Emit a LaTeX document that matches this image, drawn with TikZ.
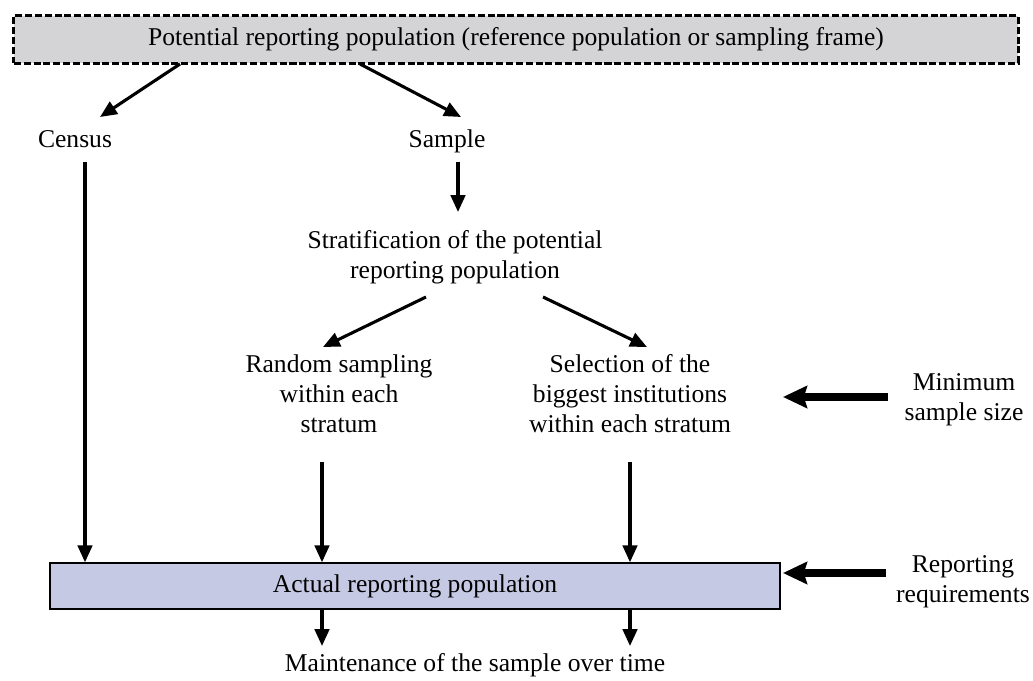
\documentclass[tikz,border=0pt]{standalone}
\usepackage{fontspec}
\setmainfont{Liberation Serif}
\usetikzlibrary{arrows.meta, calc, positioning}

\definecolor{framegray}{RGB}{212,212,214}
\definecolor{actualblue}{RGB}{197,201,228}

\begin{document}
\begin{tikzpicture}[x=0.025cm, y=-0.025cm,
  every node/.style={font=\fontsize{18.2}{21.3}\selectfont, align=center, inner sep=0pt},
  arr/.style={line width=2.2pt, -{Triangle[length=0.42cm, width=0.36cm]}},
  bigarr/.style={line width=5.6pt, -{Stealth[length=0.6cm, width=0.55cm, inset=0.08cm]}}]
  \useasboundingbox (0,0) rectangle (1033,681);
  % boxes
  \node[draw, fill=framegray, line width=2pt, dash pattern=on 5pt off 2pt,
    minimum width=25.1cm, minimum height=1.18cm] (pop) at (516,39.5)
    {Potential reporting population (reference population or sampling frame)};
  \node[draw, fill=actualblue, line width=1pt,
    minimum width=18.25cm, minimum height=1.15cm] (actual) at (415,586)
    {Actual reporting population};
  % texts
  \node[anchor=base] (census) at (75,148) {Census};
  \node[anchor=base] (sample) at (447,148) {Sample};
  \node (strat) at (455,257) {Stratification of the potential\\reporting population};
  \node (random) at (339,394) {Random sampling\\within each\\stratum};
  \node (select) at (630,394) {Selection of the\\biggest institutions\\within each stratum};
  \node (minsize) at (964,400) {Minimum\\sample size};
  \node (reqs) at (963,582) {Reporting\\requirements};
  \node (maint) at (475,665) {Maintenance of the sample over time};
  % free ends
  \coordinate (c1) at (180,64);
  \coordinate (c2) at (360,64);
  \coordinate (c3) at (426,297);
  \coordinate (c4) at (543,297);
  \coordinate (e1) at (100,117);
  \coordinate (e2) at (461,117);
  \coordinate (e3) at (323,347);
  \coordinate (e4) at (647,347);
  % arrows
  \draw[arr] (c1) -- (e1);
  \draw[arr] (c2) -- (e2);
  \draw[arr] (85,162) -- (actual.north -| 85,0);
  \draw[arr] (458,162) -- (458,212);
  \draw[arr] (c3) -- (e3);
  \draw[arr] (c4) -- (e4);
  \draw[arr] (322,462) -- (actual.north -| 322,0);
  \draw[arr] (630,462) -- (actual.north -| 630,0);
  \draw[arr] (actual.south -| 322,0) -- (322,646);
  \draw[arr] (actual.south -| 630,0) -- (630,646);
  \draw[bigarr] (888,397) -- (783,397);
  \draw[bigarr] (886,573) -- (783,573);
\end{tikzpicture}
\end{document}
